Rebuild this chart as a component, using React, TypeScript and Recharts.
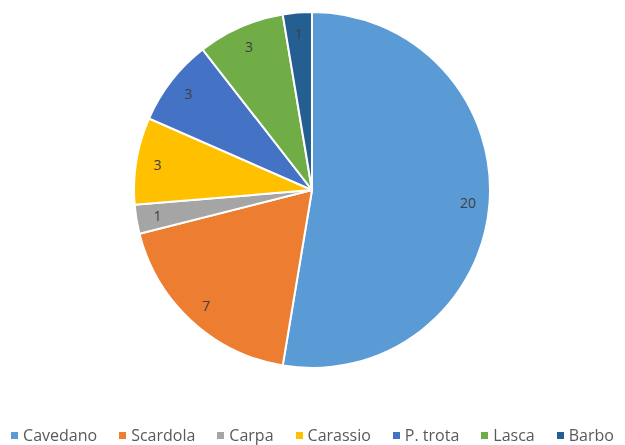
import { PieChart, Pie, Cell, Legend } from "recharts";

const species = ["Cavedano", "Scardola", "Carpa", "Carassio", "P. trota", "Lasca", "Barbo"];
const counts = [20, 7, 1, 3, 3, 3, 1];
const colors = ["#5B9BD5", "#ED7D31", "#A5A5A5", "#FFC000", "#4472C4", "#70AD47", "#255E91"];

const data = species.map((name, i) => ({ name, value: counts[i] }));

const RAD = Math.PI / 180;

function renderLabel(props: any) {
  const { cx, cy, midAngle, outerRadius, value } = props;
  const r = outerRadius * 0.88;
  const x = cx + r * Math.cos(-midAngle * RAD);
  const y = cy + r * Math.sin(-midAngle * RAD);
  return (
    <text x={x} y={y} fill="#404040" fontSize={14} textAnchor="middle" dominantBaseline="central">
      {value}
    </text>
  );
}

function renderLegend() {
  return (
    <div
      style={{
        display: "flex",
        justifyContent: "center",
        gap: 22,
        fontSize: 16,
        lineHeight: "16px",
        color: "#595959",
      }}
    >
      {species.map((s, i) => (
        <div key={s} style={{ display: "flex", alignItems: "center", whiteSpace: "nowrap" }}>
          <span style={{ width: 7, height: 7, background: colors[i], marginRight: 5, display: "inline-block" }} />
          {s}
        </div>
      ))}
    </div>
  );
}

export default function App() {
  return (
    <div style={{ position: "fixed", left: 0, top: 0, background: "#fff", fontFamily: "'Open Sans', sans-serif" }}>
      <PieChart width={625} height={445}>
        <Pie
          data={data}
          dataKey="value"
          nameKey="name"
          cx={307}
          cy={185}
          outerRadius={178}
          startAngle={90}
          endAngle={-270}
          stroke="#fff"
          strokeWidth={2}
          label={renderLabel}
          labelLine={false}
          isAnimationActive={false}
        >
          {data.map((d, i) => (
            <Cell key={d.name} fill={colors[i]} />
          ))}
        </Pie>
        <Legend
          content={renderLegend}
          wrapperStyle={{ left: 0, top: 427, width: 625, height: 17 }}
        />
      </PieChart>
    </div>
  );
}
